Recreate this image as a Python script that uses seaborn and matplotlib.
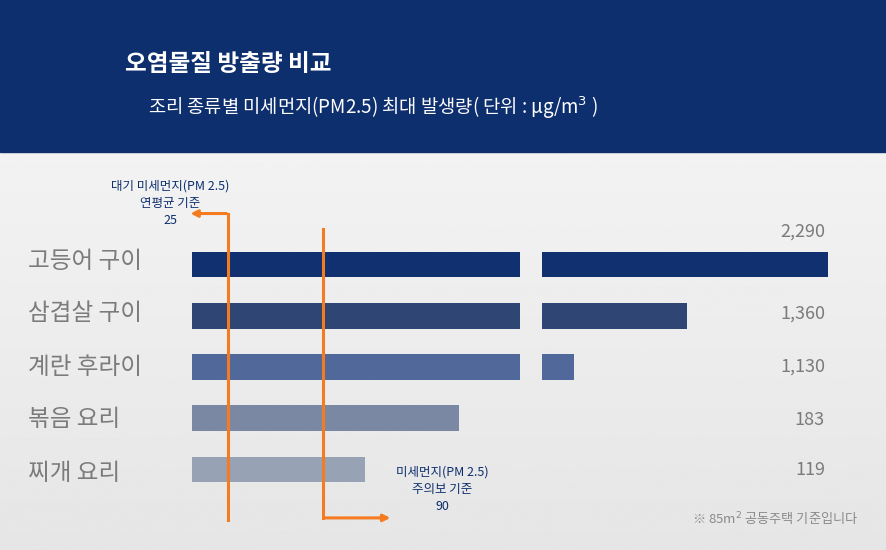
import numpy as np
import pandas as pd
import matplotlib.pyplot as plt
import seaborn as sns
from matplotlib import rc

rc('font', family=['Noto Sans CJK KR', 'Noto Sans CJK JP', 'Noto Sans CJK SC', 'DejaVu Sans'])

# 데이터
foods = ['고등어 구이', '삼겹살 구이', '계란 후라이', '볶음 요리', '찌개 요리']
pm25 = [2290, 1360, 1130, 183, 119]
value_labels = ['2,290', '1,360', '1,130', '183', '119']
colors = ['#10306f', '#2f4573', '#51689b', '#7a88a4', '#98a2b5']
ref_annual = 25
ref_warning = 90

df = pd.DataFrame({'food': foods, 'pm': pm25})
W, H = 886, 550
fig = plt.figure(figsize=(W / 100, H / 100), dpi=100)

# 배경
bg = fig.add_axes([0, 0, 1, 1], zorder=-5)
grad = np.linspace(0.97, 0.90, 256).reshape(-1, 1)
bg.imshow(grad, cmap='gray', vmin=0, vmax=1, aspect='auto', extent=[0, 1, 0, 1])
bg.axhspan(1 - 152 / H, 1, color='#0e2f6e')
bg.set_xlim(0, 1); bg.set_ylim(0, 1); bg.axis('off')

fig.text(125 / W, 1 - 64 / H, '오염물질 방출량 비교', color='white', fontsize=17,
         fontweight='bold', va='center')
fig.text(148 / W, 1 - 108 / H, '조리 종류별 미세먼지(PM2.5) 최대 발생량( 단위 : µg/m$^3$ )',
         color='white', fontsize=13.5, va='center')

y0, y1 = 1 - 500 / H, 1 - 234 / H
axL = fig.add_axes([192 / W, y0, (520 - 192) / W, y1 - y0])
axR = fig.add_axes([542 / W, y0, (828 - 542) / W, y1 - y0])
axR.set_xscale('function', functions=(lambda x: np.log(np.clip(x - 1000, 1e-6, None)),
                                      lambda y: np.exp(y) + 1000))
for ax, lim in ((axL, (0, 225)), (axR, (1097, 2290))):
    sns.barplot(data=df, x='pm', y='food', hue='food', palette=colors, legend=False,
                width=0.5, orient='h', ax=ax, saturation=1)
    ax.set_xlim(*lim)
    ax.set_ylim(4.6, -0.6)
    ax.axis('off')
    ax.patch.set_alpha(0)

label_y = [232, 314, 367, 420, 470]
for i, f in enumerate(foods):
    fig.text(28 / W, 1 - (261 + 53 * i) / H, f, color='#7b7b7b', fontsize=17, va='center')
    fig.text(825 / W, 1 - label_y[i] / H, value_labels[i], color='#7b7b7b',
             fontsize=13, va='center', ha='right')

# 기준선
orange = '#f47b20'
axL.plot([ref_annual, ref_annual], [5.0, -1.0], color=orange, lw=2.2, clip_on=False)
axL.annotate('', xy=(ref_annual - 28, -1.0), xytext=(ref_annual + 0.5, -1.0),
             arrowprops=dict(arrowstyle='-|>', color=orange, lw=2.2), annotation_clip=False)
axL.plot([ref_warning, ref_warning], [-0.7, 4.95], color=orange, lw=2.2, clip_on=False)
axL.annotate('', xy=(ref_warning + 48, 4.95), xytext=(ref_warning - 0.5, 4.95),
             arrowprops=dict(arrowstyle='-|>', color=orange, lw=2.2), annotation_clip=False)

fig.text(170 / W, 1 - 203 / H, '대기 미세먼지(PM 2.5)\n연평균 기준\n%d' % ref_annual,
         color='#0e2f6e', fontsize=9, ha='center', va='center', linespacing=1.4)
fig.text(442 / W, 1 - 489 / H, '미세먼지(PM 2.5)\n주의보 기준\n%d' % ref_warning,
         color='#0e2f6e', fontsize=9, ha='center', va='center', linespacing=1.4)
fig.text(858 / W, 1 - 519 / H, '※ 85m$^2$ 공동주택 기준입니다', color='#8a8a8a',
         fontsize=9.5, ha='right', va='center')

fig.savefig('out.png', dpi=100)
